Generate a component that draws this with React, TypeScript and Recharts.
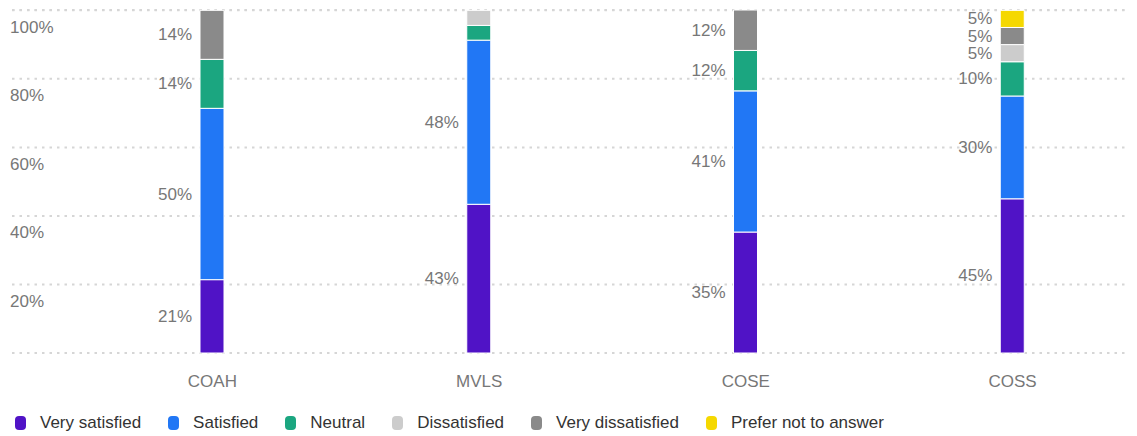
import React from "react";
import { BarChart, Bar, XAxis, YAxis, CartesianGrid, LabelList } from "recharts";

const categories = ["COAH", "MVLS", "COSE", "COSS"];
const verySatisfied = [21.4, 43.4, 35.3, 45];
const satisfied = [50, 47.9, 41.2, 30];
const neutral = [14.3, 4.3, 11.8, 10];
const dissatisfied = [0, 4.4, 0, 5];
const veryDissatisfied = [14.3, 0, 11.8, 5];
const preferNot = [0, 0, 0, 5];
const yTicks = [0, 20, 40, 60, 80, 100];

const seriesDefs = [
  { key: "vs", name: "Very satisfied", color: "#5013c6", values: verySatisfied },
  { key: "s", name: "Satisfied", color: "#2177f5", values: satisfied },
  { key: "n", name: "Neutral", color: "#1ba680", values: neutral },
  { key: "d", name: "Dissatisfied", color: "#cccccc", values: dissatisfied },
  { key: "vd", name: "Very dissatisfied", color: "#8a8a8a", values: veryDissatisfied },
  { key: "p", name: "Prefer not to answer", color: "#f5d800", values: preferNot },
];

const data = categories.map((c, i) => {
  const row: any = { name: c };
  seriesDefs.forEach((s) => (row[s.key] = s.values[i]));
  return row;
});

const FONT = "'Liberation Sans', Arial, sans-serif";
const TEXT = "#777777";

const renderLabel = (props: any) => {
  const { x, y, height, value } = props;
  if (value == null || value < 5) return null;
  return (
    <text
      x={x - 8}
      y={y + height / 2}
      textAnchor="end"
      dominantBaseline="central"
      fontSize={17}
      fontFamily={FONT}
      fill={TEXT}
    >
      {Math.round(value)}%
    </text>
  );
};

const renderYTick = (props: any) => {
  const { y, payload } = props;
  if (payload.value === 0) return <g />;
  return (
    <text x={2} y={y + 17} textAnchor="start" dominantBaseline="central" fontSize={17} fontFamily={FONT} fill={TEXT}>
      {payload.value}%
    </text>
  );
};

const renderXTick = (props: any) => {
  const { x, payload } = props;
  return (
    <text x={x} y={373} textAnchor="middle" dominantBaseline="central" fontSize={17} fontFamily={FONT} fill={TEXT}>
      {payload.value}
    </text>
  );
};

const LegendBlock = () => (
  <div
    style={{
      position: "absolute",
      left: 7,
      top: 405,
      height: 20,
      display: "flex",
      alignItems: "center",
      fontFamily: FONT,
      fontSize: 17,
      color: "#333",
      whiteSpace: "nowrap",
    }}
  >
    {seriesDefs.map((s) => (
      <div key={s.key} style={{ display: "flex", alignItems: "center", marginRight: 27 }}>
        <span
          style={{
            display: "inline-block",
            width: 11,
            height: 14,
            borderRadius: 4,
            background: s.color,
            marginRight: 14,
          }}
        />
        <span>{s.name}</span>
      </div>
    ))}
  </div>
);

export default function App() {
  return (
    <div style={{ width: 1129, height: 428, overflow: "hidden", position: "relative" }}>
      <BarChart
        width={1150}
        height={428}
        data={data}
        margin={{ top: 2, right: 12, left: 3, bottom: 53 }}
        barSize={24}
      >
        <CartesianGrid vertical={false} stroke="#d6d6d6" strokeWidth={2} strokeDasharray="2.5 5" />
        <XAxis
          dataKey="name"
          axisLine={false}
          tickLine={false}
          tick={renderXTick}
          height={30}
          padding={{ left: 67, right: 0 }}
          interval={0}
        />
        <YAxis
          width={1}
          domain={[0, 100]}
          ticks={yTicks}
          interval={0}
          axisLine={false}
          tickLine={false}
          tick={renderYTick}
        />
        {seriesDefs.map((s) => (
          <Bar
            key={s.key}
            dataKey={s.key}
            name={s.name}
            stackId="a"
            fill={s.color}
            stroke="#ffffff"
            strokeWidth={1}
            isAnimationActive={false}
          >
            <LabelList dataKey={s.key} content={renderLabel} />
          </Bar>
        ))}
      </BarChart>
      <LegendBlock />
    </div>
  );
}
